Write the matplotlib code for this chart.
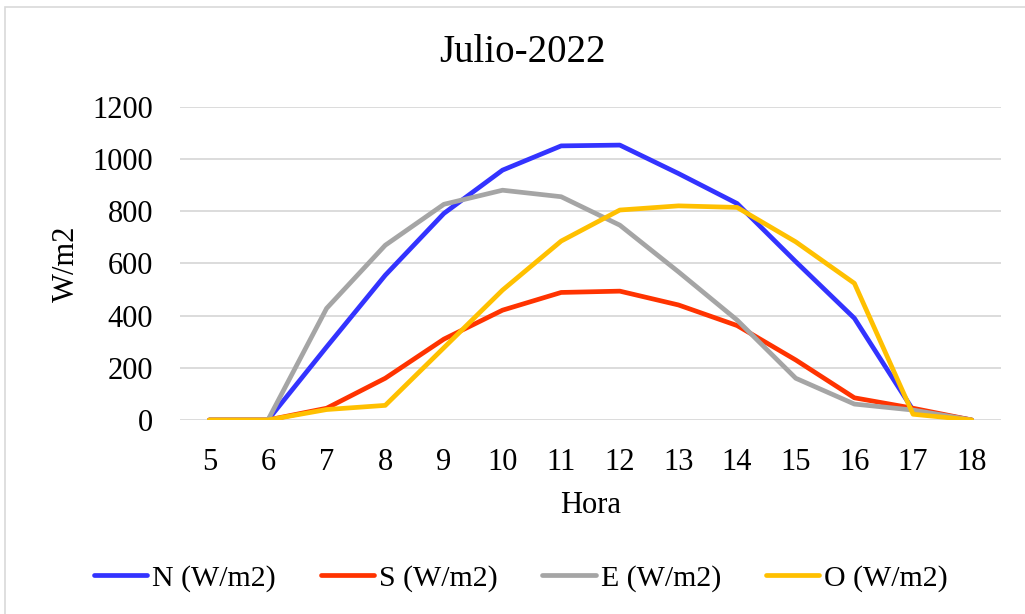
import matplotlib
matplotlib.use("Agg")
import matplotlib.pyplot as plt
from matplotlib.patches import Rectangle

plt.rcParams['font.family'] = ['Liberation Serif', 'DejaVu Serif']

horas = [5, 6, 7, 8, 9, 10, 11, 12, 13, 14, 15, 16, 17, 18]
norte = [0, 0, 280, 555, 792, 958, 1051, 1054, 945, 830, 607, 390, 38, 0]
sur = [0, 0, 45, 160, 310, 421, 489, 494, 441, 362, 230, 85, 45, 0]
este = [0, 0, 428, 670, 827, 881, 856, 747, 568, 383, 160, 61, 38, 0]
oeste = [0, 0, 40, 56, 277, 498, 686, 805, 821, 815, 683, 524, 22, 0]

series = [
	("N (W/m2)", norte, "#3333FF"),
	("S (W/m2)", sur, "#FF3300"),
	("E (W/m2)", este, "#A5A5A5"),
	("O (W/m2)", oeste, "#FFC000"),
]

fig = plt.figure(figsize=(10.25, 6.14), dpi=100)
# chart frame
fig.patches.append(Rectangle((5/1025, -0.01), 1.1, 1 - 7/614 + 0.01, transform=fig.transFigure,
	fill=False, edgecolor="#D9D9D9", linewidth=1.2))

ax = fig.add_axes([0.1756, 0.316, 0.801, 0.5097])
for nombre, vals, color in series:
	ax.plot(horas, vals, color=color, linewidth=3.4, label=nombre, solid_capstyle="round", zorder=3)

ax.set_xlim(4.5, 18.5)
ax.set_ylim(0, 1200)
ax.set_xticks(horas)
ax.set_yticks(range(0, 1201, 200))
ax.yaxis.grid(True, color="#D9D9D9", linewidth=1.3)
ax.set_axisbelow(True)
for s in ax.spines.values():
	s.set_visible(False)
ax.tick_params(axis="both", length=0, labelsize=22)
ax.tick_params(axis="y", pad=19.5)
ax.tick_params(axis="x", pad=20)

fig.text(0.51, 1 - 52/614, "Julio-2022", fontsize=28, ha="center", va="center")
ax.set_xlabel("Hora", fontsize=22, labelpad=10)
ax.set_ylabel("W/m2", fontsize=22, labelpad=8)

fig.legend(loc="center", bbox_to_anchor=(0.508, 0.058), ncol=4, frameon=False,
	fontsize=21.5, handlelength=1.8, handletextpad=0.15, columnspacing=1.5)

fig.savefig("out.png", dpi=100)
